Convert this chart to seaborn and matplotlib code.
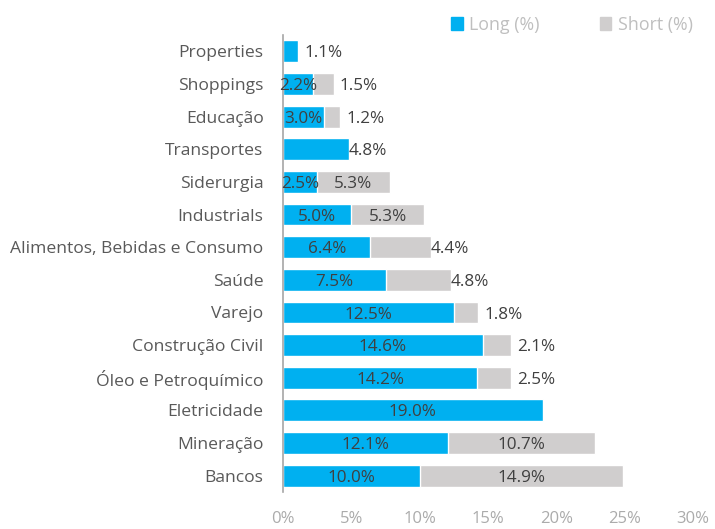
import matplotlib
matplotlib.use('Agg')
import numpy as np
import pandas as pd
import seaborn as sns
from matplotlib import pyplot as plt
from matplotlib.patches import Patch

# data (%)
categories = ["Properties", "Shoppings", "Educação", "Transportes", "Siderurgia",
              "Industrials", "Alimentos, Bebidas e Consumo", "Saúde", "Varejo",
              "Construção Civil", "Óleo e Petroquímico", "Eletricidade",
              "Mineração", "Bancos"]
long_pct = [1.1, 2.2, 3.0, 4.8, 2.5, 5.0, 6.4, 7.5, 12.5, 14.6, 14.2, 19.0, 12.1, 10.0]
short_pct = [0, 1.5, 1.2, 0, 5.3, 5.3, 4.4, 4.8, 1.8, 2.1, 2.5, 0, 10.7, 14.9]
x_ticks = [0, 5, 10, 15, 20, 25, 30]

BLUE = "#00B0F0"
GRAY = "#D0CECE"
TEXT = "#404040"
CAT = "#595959"
LIGHT = "#ABABAB"

df = pd.DataFrame({"cat": categories, "long": long_pct, "short": short_pct})
df["total"] = df["long"] + df["short"]

sns.set_style("white")
plt.rcParams['font.family'] = ['Open Sans', 'DejaVu Sans']

fig = plt.figure(figsize=(7.15, 5.29), dpi=100)
ax = fig.add_axes([283 / 715, 1 - 492 / 529, 410 / 715, 457 / 529])

# stacked bars: total in gray, long drawn over it in blue
sns.barplot(data=df, y="cat", x="total", order=categories, color=GRAY,
            width=0.67, ax=ax, saturation=1)
sns.barplot(data=df, y="cat", x="long", order=categories, color=BLUE,
            width=0.67, ax=ax, saturation=1)

# data labels
fs = 12.3
for i, row in df.iterrows():
    lv, sv = row["long"], row["short"]
    if sv == 0 and lv < 10:
        gap = 5 if lv < 3 else 0
        ax.annotate(f"{lv:.1f}%", (lv, i), xytext=(gap, -1.5), textcoords="offset points",
                    ha="left", va="center", color=TEXT, fontsize=fs)
    else:
        ax.annotate(f"{lv:.1f}%", (lv / 2, i), xytext=(0, -1.5), textcoords="offset points",
                    ha="center", va="center", color=TEXT, fontsize=fs)
    if sv > 0:
        if sv < 5:
            gap = 4.5 if sv < 3 else 0
            ax.annotate(f"{sv:.1f}%", (lv + sv, i), xytext=(gap, -1.5), textcoords="offset points",
                        ha="left", va="center", color=TEXT, fontsize=fs)
        else:
            ax.annotate(f"{sv:.1f}%", (lv + sv / 2, i), xytext=(0, -1.5), textcoords="offset points",
                        ha="center", va="center", color=TEXT, fontsize=fs)

ax.set_xlim(0, 30)
ax.set_ylim(len(categories) - 0.5, -0.5)
ax.set_xticks(x_ticks)
ax.set_xticklabels([f"{t}%" for t in x_ticks])
ax.set_xlabel("")
ax.set_ylabel("")
ax.tick_params(axis="x", length=0, pad=14, labelsize=12, labelcolor=LIGHT)
ax.tick_params(axis="y", length=0, pad=14, labelsize=12.6, labelcolor=CAT)
for s in ["top", "right", "bottom"]:
    ax.spines[s].set_visible(False)
ax.spines["left"].set_color("#A6A6A6")
ax.spines["left"].set_linewidth(1.2)

handles = [Patch(color=BLUE, label="Long (%)"), Patch(color=GRAY, label="Short (%)")]
leg = fig.legend(handles=handles, loc="upper right", bbox_to_anchor=(0.991, 1.0), ncol=2,
                 frameon=False, fontsize=12.8, handlelength=0.65, handleheight=0.75,
                 handletextpad=0.35, columnspacing=3.4)
for t in leg.get_texts():
    t.set_color("#BFBFBF")

plt.savefig("out.png", dpi=100)
plt.close()
